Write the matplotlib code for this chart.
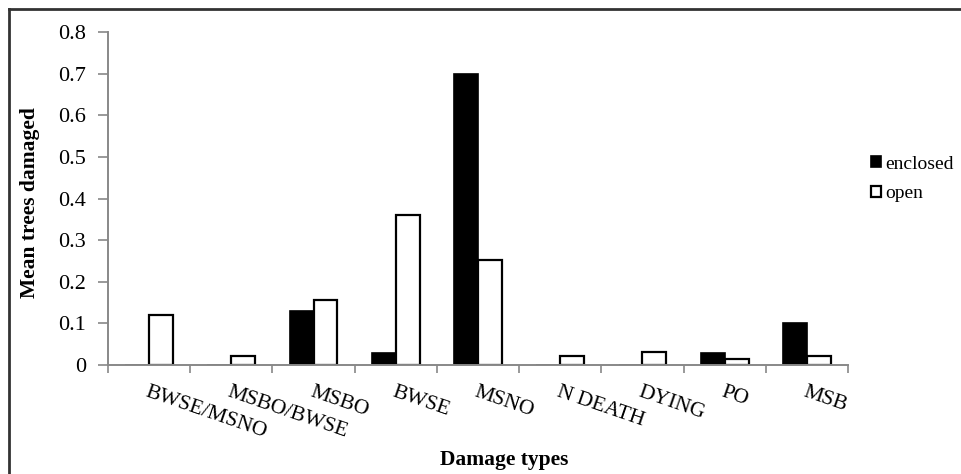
import matplotlib.pyplot as plt
import numpy as np
from matplotlib.lines import Line2D

CATEGORIES = ['BWSE/MSNO', 'MSBO/BWSE', 'MSBO', 'BWSE', 'MSNO',
              'N DEATH', 'DYING', 'PO', 'MSB']
ENCLOSED = [0, 0, 0.13, 0.028, 0.70, 0, 0, 0.028, 0.10]
OPEN = [0.12, 0.022, 0.155, 0.36, 0.253, 0.022, 0.032, 0.014, 0.022]
Y_TICKS = [0, 0.1, 0.2, 0.3, 0.4, 0.5, 0.6, 0.7, 0.8]

W, H = 961, 474


def main():
    plt.rcParams['font.family'] = ['Liberation Serif', 'DejaVu Serif']
    fig = plt.figure(figsize=(W / 100, H / 100), dpi=100)
    ax = fig.add_axes([108 / W, 1 - 365 / H, (848 - 108) / W, (365 - 32) / H])

    xs = np.arange(len(CATEGORIES))
    bw = 0.29
    ax.bar(xs - bw / 2, ENCLOSED, bw, color='black', edgecolor='black',
           linewidth=1.2, label='enclosed')
    ax.bar(xs + bw / 2, OPEN, bw, color='white', edgecolor='black',
           linewidth=1.6, label='open')

    ax.set_xlim(-0.5, len(CATEGORIES) - 0.5)
    ax.set_ylim(0, 0.8)
    ax.set_yticks(Y_TICKS)
    ax.set_yticklabels(['0' if v == 0 else f'{v:.1f}' for v in Y_TICKS], fontsize=16)
    ax.set_xticks(np.arange(len(CATEGORIES) + 1) - 0.5)
    ax.set_xticklabels([])
    ax.set_xticks(xs, minor=True)
    ax.set_xticklabels(CATEGORIES, minor=True, rotation=-19, ha='left', va='top',
                       rotation_mode='anchor', fontsize=15.5)
    ax.tick_params(axis='x', which='minor', length=0, pad=13)
    ax.tick_params(axis='x', which='major', length=6, color='#888888', width=1.2)
    ax.tick_params(axis='y', length=7, color='#888888', width=1.2, pad=9)

    for s in ['top', 'right']:
        ax.spines[s].set_visible(False)
    for s in ['left', 'bottom']:
        ax.spines[s].set_color('#888888')
        ax.spines[s].set_linewidth(1.4)

    fig.text(30 / W, 1 - 203 / H, 'Mean trees damaged', rotation=90,
             ha='center', va='center', fontsize=15.5, fontweight='bold')
    fig.text(504 / W, 1 - 460 / H, 'Damage types', ha='center', va='center',
             fontsize=15.5, fontweight='bold')

    ax.legend(loc='center left', bbox_to_anchor=(871 / W, 1 - 179 / H),
              bbox_transform=fig.transFigure, frameon=False, fontsize=14,
              handlelength=0.5, handleheight=0.5, handletextpad=0.25,
              labelspacing=0.65, borderpad=0, borderaxespad=0)

    # outer frame (top and left edges visible)
    fig.add_artist(Line2D([8.5 / W, 1], [1 - 8.5 / H] * 2, color='#333333',
                          linewidth=2, transform=fig.transFigure))
    fig.add_artist(Line2D([8.5 / W] * 2, [0, 1 - 8.5 / H], color='#333333',
                          linewidth=2, transform=fig.transFigure))

    fig.savefig('out.png', dpi=100)


if __name__ == '__main__':
    main()
